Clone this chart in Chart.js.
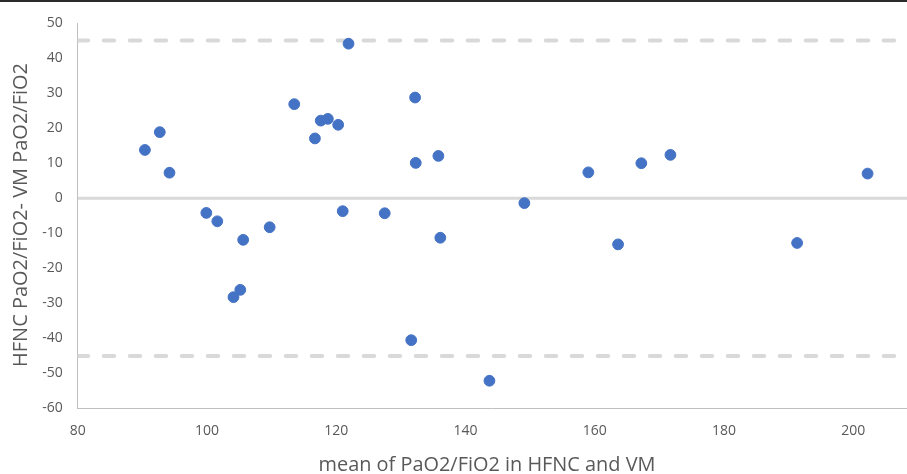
<!DOCTYPE html>
<html>
<head>
<meta charset="utf-8">
<script src="https://cdn.jsdelivr.net/npm/chart.js@4/dist/chart.umd.min.js"></script>
<style>
  html, body { margin: 0; padding: 0; background: #fff; overflow: hidden; }
  #wrap { position: relative; width: 907px; height: 474px; }
  #topline { position: absolute; left: 0; top: 0; width: 907px; height: 2px; background: #2b2b2b; }
</style>
</head>
<body>
<div id="wrap">
  <canvas id="baChart" width="907" height="474"></canvas>
  <div id="topline"></div>
</div>
<script>
// Bland-Altman: HFNC vs VM PaO2/FiO2

const meanValues = [
  90.4, 92.7, 94.2, 99.9, 101.6, 105.6, 109.7, 104.1, 105.15, 113.5,
  116.7, 117.6, 118.7, 120.3, 121.9, 121.0, 127.5, 132.2, 132.3, 135.8,
  136.1, 131.6, 143.7, 149.1, 159.0, 163.6, 167.2, 171.7, 191.3, 202.2
];
const diffValues = [
  13.8, 18.9, 7.3, -4.2, -6.6, -11.9, -8.3, -28.3, -26.2, 26.9,
  17.1, 22.2, 22.7, 21.0, 44.2, -3.7, -4.3, 28.8, 10.1, 12.1,
  -11.3, -40.6, -52.2, -1.4, 7.4, -13.2, 10.0, 12.4, -12.8, 7.05
];
const biasLine = 0;
const upperLimit = 45.1;
const lowerLimit = -45.1;
const xRange = [80, 208.3];
const yRange = [-60, 50];
const xTitle = 'mean of PaO2/FiO2 in HFNC and VM';
const yTitle = 'HFNC PaO2/FiO2- VM PaO2/FiO2';

const points = meanValues.map((m, i) => ({ x: m, y: diffValues[i] }));
const hline = v => xRange.map(x => ({ x: x, y: v }));

const textColor = '#595959';
const fontFamily = '"Open Sans", "Liberation Sans", sans-serif';

// pick a font size so the text spans the given width
function fitFont(ctx, text, width) {
  ctx.font = '20px ' + fontFamily;
  const w = ctx.measureText(text).width;
  return (20 * width / w).toFixed(2) + 'px ' + fontFamily;
}

// axis titles drawn by hand so they sit where Excel put them
const axisTitles = {
  id: 'axisTitles',
  afterDraw(chart) {
    const ctx = chart.ctx;
    ctx.save();
    ctx.fillStyle = textColor;
    ctx.textBaseline = 'alphabetic';
    ctx.textAlign = 'center';
    ctx.font = fitFont(ctx, xTitle, 337);
    ctx.fillText(xTitle, 487, 471);
    ctx.translate(27, 215);
    ctx.rotate(-Math.PI / 2);
    ctx.font = fitFont(ctx, yTitle, 304);
    ctx.fillText(yTitle, 0, 0);
    ctx.restore();
  }
};

new Chart(document.getElementById('baChart'), {
  type: 'scatter',
  data: {
    datasets: [
      {
        label: 'diff',
        data: points,
        backgroundColor: '#4472C4',
        borderColor: '#4472C4',
        borderWidth: 1,
        pointRadius: 5.4
      },
      {
        type: 'line',
        label: 'bias',
        data: hline(biasLine),
        borderColor: '#d9d9d9',
        borderWidth: 3,
        pointRadius: 0
      },
      {
        type: 'line',
        label: 'upper',
        data: hline(upperLimit),
        borderColor: '#d9d9d9',
        borderWidth: 4,
        borderDash: [10.5, 15.5],
        borderCapStyle: 'round',
        pointRadius: 0
      },
      {
        type: 'line',
        label: 'lower',
        data: hline(lowerLimit),
        borderColor: '#d9d9d9',
        borderWidth: 4,
        borderDash: [10.5, 15.5],
        borderCapStyle: 'round',
        pointRadius: 0
      }
    ]
  },
  options: {
    responsive: false,
    animation: false,
    layout: { autoPadding: false, padding: { top: 22.5, right: 0, left: 0, bottom: 0 } },
    plugins: {
      legend: { display: false },
      tooltip: { enabled: false }
    },
    scales: {
      x: {
        type: 'linear',
        min: xRange[0],
        max: xRange[1],
        grid: { display: false, drawTicks: false },
        border: { display: true, color: '#bfbfbf', width: 1 },
        ticks: {
          stepSize: 20,
          includeBounds: false,
          padding: 15,
          color: textColor,
          font: { family: fontFamily, size: 14 }
        },
        afterFit: s => { s.height = 66; }
      },
      y: {
        min: yRange[0],
        max: yRange[1],
        grid: { display: false, drawTicks: false },
        border: { display: true, color: '#bfbfbf', width: 1 },
        ticks: {
          stepSize: 10,
          padding: 15,
          color: textColor,
          font: { family: fontFamily, size: 14 }
        },
        afterFit: s => { s.width = 77.7; }
      }
    }
  },
  plugins: [axisTitles]
});
</script>
</body>
</html>
